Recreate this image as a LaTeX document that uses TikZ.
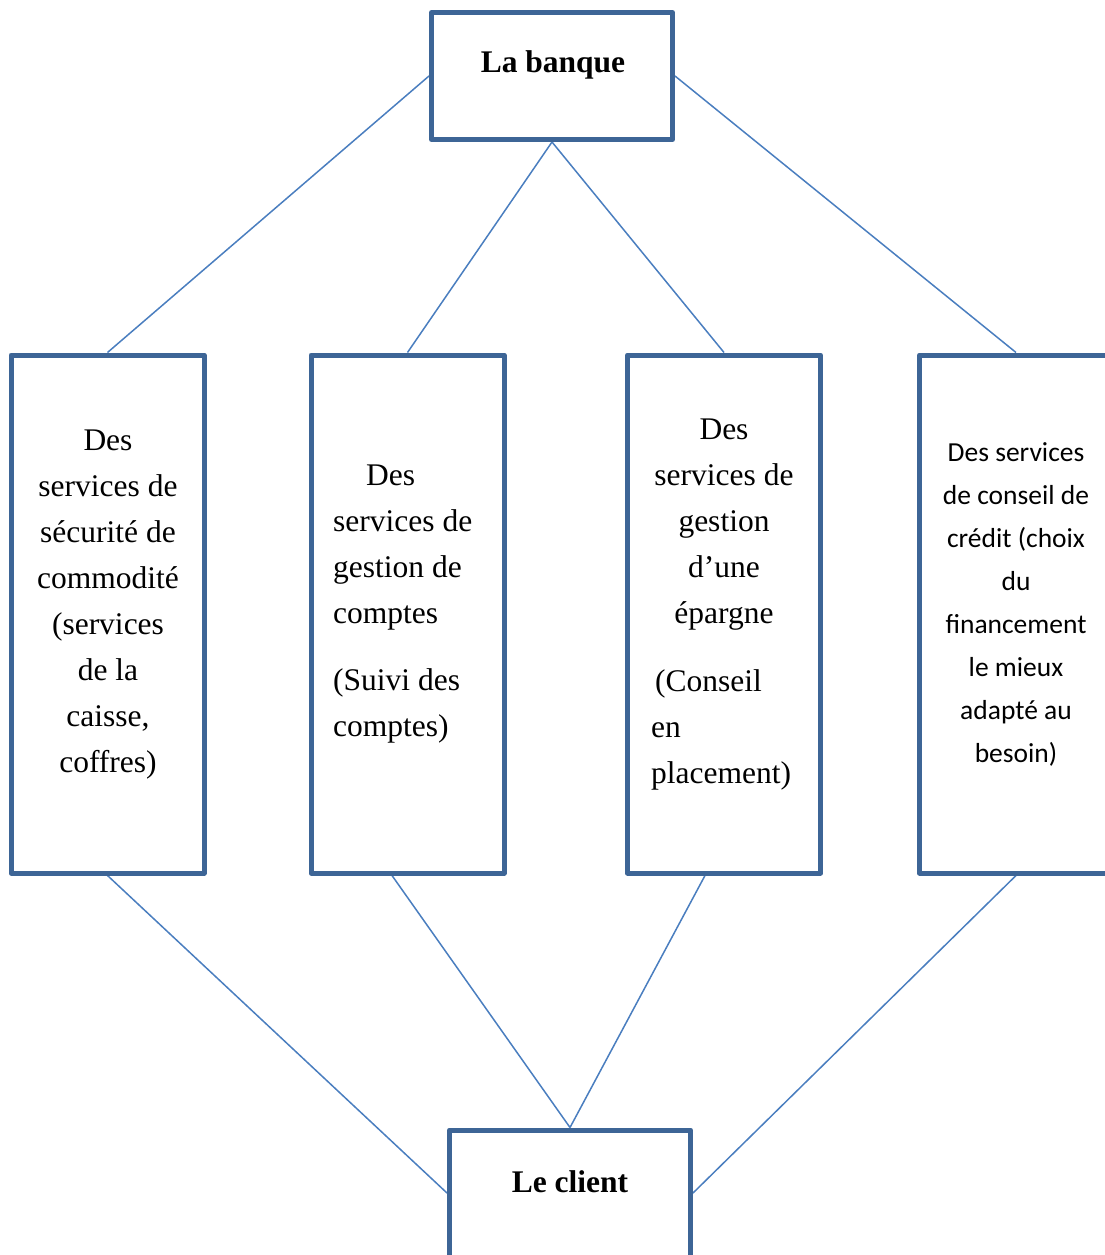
\documentclass[tikz,border=0pt]{standalone}
\usepackage{fontspec}
\setmainfont{Liberation Serif}
\newfontfamily\calibri{Carlito}
\usetikzlibrary{backgrounds}

\definecolor{boxblue}{HTML}{3D6596}
\definecolor{lineblue}{HTML}{4A7EBF}
\newcommand\grand{\fontsize{31.5}{46}\selectfont}

\tikzset{
  cadre/.style={rectangle, draw=boxblue, line width=5pt, line join=round, inner sep=0pt},
  service/.style={cadre, minimum width=193pt, minimum height=518pt},
  lien/.style={draw=lineblue, line width=1.5pt},
  texte/.style={font=\grand, inner sep=0pt},
}

\begin{document}
\begin{tikzpicture}[x=1pt,y=-1pt]
\useasboundingbox (0,0) rectangle (1105,1255);
\clip (0,0) rectangle (1105,1255);

\node[cadre, minimum width=241pt, minimum height=127pt] (banque) at (552,76) {};
\node[cadre, minimum width=241pt, minimum height=160pt, anchor=north] (client) at (570,1127.5) {};
\node[font=\grand\bfseries, inner sep=0pt, anchor=base] (tbanque) at (553,73) {La banque};
\node[font=\grand\bfseries, inner sep=0pt, anchor=base] (tclient) at (570,1192) {Le client};

\node[service] (securite) at (107.5,614) {};
\node[service] (comptes) at (407.5,614) {};
\node[service] (epargne) at (724,614) {};
\node[service] (credit) at (1016,614) {};

\node[texte, anchor=north, align=center] (tsecurite) at (108,429.5)
  {Des\\services de\\sécurité de\\commodité\\(services\\de la\\caisse,\\coffres)};
\node[texte, anchor=north west, align=left] (tcomptes) at (333,465)
  {\hspace*{33pt}Des\\services de\\gestion de\\comptes\\[21pt](Suivi des\\comptes)};
\node[texte, anchor=north, align=center] (tepargne) at (724,418.5)
  {Des\\services de\\gestion\\d’une\\épargne};
\node[texte, anchor=north west, align=left] (tconseil) at (651,669)
  {\hspace*{4pt}(Conseil\\en\\placement)};
\node[font=\calibri\fontsize{27.5}{43}\selectfont, inner sep=0pt, anchor=north, align=center] (tcredit) at (1016,442)
  {Des services\\de conseil de\\crédit (choix\\du\\financement\\le mieux\\adapté au\\besoin)};

\begin{scope}[on background layer]
\draw[lien] (banque.west) -- (securite.north);
\draw[lien] (banque.south) -- (comptes.north);
\draw[lien] (banque.south) -- (epargne.north);
\draw[lien] (banque.east) -- (credit.north);
\draw[lien] (securite.south) -- ([yshift=17pt]client.west);
\draw[lien] ([xshift=-15.5pt]comptes.south) -- (client.north);
\draw[lien] ([xshift=-19pt]epargne.south) -- (client.north);
\draw[lien] (credit.south) -- ([yshift=17pt]client.east);
\end{scope}

\end{tikzpicture}
\end{document}
